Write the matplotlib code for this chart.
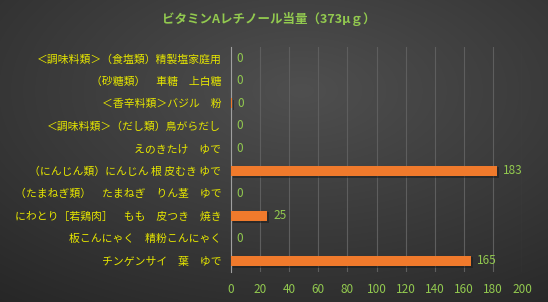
import numpy as np
import matplotlib.pyplot as plt

plt.rcParams['font.family'] = ['Noto Sans CJK JP', 'DejaVu Sans']

title = 'ビタミンAレチノール当量（373μｇ）'
foods = [
    '＜調味料類＞（食塩類）精製塩家庭用',
    '（砂糖類）　車糖　上白糖',
    '＜香辛料類＞バジル　粉',
    '＜調味料類＞（だし類）鳥がらだし',
    'えのきたけ　ゆで',
    '（にんじん類）にんじん 根 皮むき ゆで',
    '（たまねぎ類）　たまねぎ　りん茎　ゆで',
    'にわとり［若鶏肉］　もも　皮つき　焼き',
    '板こんにゃく　精粉こんにゃく',
    'チンゲンサイ　葉　ゆで',
]
values = [0, 0, 0.6, 0, 0, 183, 0, 25, 0, 165]
xticks = [0, 20, 40, 60, 80, 100, 120, 140, 160, 180, 200]

green = '#92c94f'
yellow = '#e6e600'
orange = '#f07a2c'

fig = plt.figure(figsize=(5.48, 3.02), dpi=100)

# background gradient
bg = fig.add_axes([0, 0, 1, 1], zorder=-10)
yy, xx = np.mgrid[0:1:302j, 0:1:548j]
d = np.sqrt(((xx - 0.55) / 0.9) ** 2 + ((yy - 0.3) / 0.9) ** 2)
shade = np.clip(0.31 - 0.16 * d, 0.15, 0.31)
bg.imshow(np.dstack([shade] * 3), extent=[0, 1, 0, 1], aspect='auto')
bg.axis('off')

ax = fig.add_axes([231 / 548, 1 - 272 / 302, 291 / 548, 225 / 302])
ax.set_facecolor('none')
y = np.arange(len(foods))
ax.barh(y + 0.08, values, height=0.45, color='#1a1a1a', alpha=0.5, left=1.2, zorder=2)
bars = ax.barh(y, values, height=0.45, color=orange, zorder=3)
for yi, v in zip(y, values):
    ax.text(v + 4, yi, '%d' % v, color=green, fontsize=8.5, va='center', ha='left')

ax.set_yticks(y)
ax.set_yticklabels(foods, color=yellow, fontsize=7.8)
ax.set_ylim(len(foods) - 0.5, -0.5)
ax.set_xlim(0, 200)
ax.set_xticks(xticks)
ax.set_xticklabels([str(t) for t in xticks], color=green, fontsize=8.5)
ax.tick_params(axis='y', length=0, pad=7)
ax.tick_params(axis='x', length=0, pad=8)
ax.grid(axis='x', color='#5e5e5e', linewidth=0.8)
ax.set_axisbelow(True)
for s in ['top', 'right', 'bottom']:
    ax.spines[s].set_visible(False)
ax.spines['left'].set_color('#a0a0a0')

fig.text(0.49, 1 - 19 / 302, title, color=green, fontsize=9, fontweight='bold',
         ha='center', va='center')

fig.savefig('out.png', dpi=100)
